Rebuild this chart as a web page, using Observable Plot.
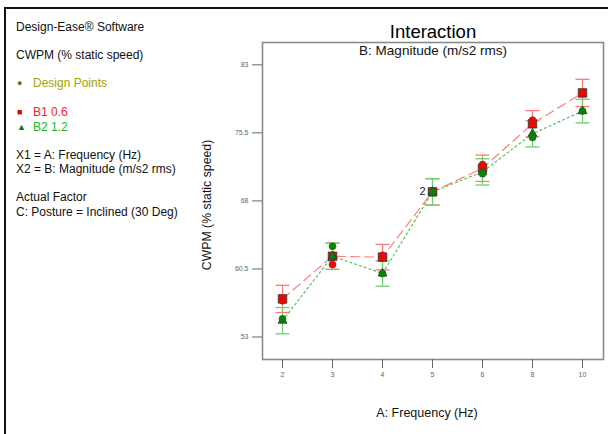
<!DOCTYPE html>
<html>
<head>
<meta charset="utf-8">
<script src="https://cdn.jsdelivr.net/npm/d3@7"></script>
<script src="https://cdn.jsdelivr.net/npm/@observablehq/plot@0.6"></script>
<style>
  body { margin: 0; background: #fff; font-family: "Liberation Sans", Arial, sans-serif; }
  #wrap { position: relative; width: 608px; height: 434px; overflow: hidden; }
  #border { position: absolute; left: 4px; top: 7px; right: -4px; bottom: -4px; border-top: 2px solid #111; border-left: 2px solid #111; }
  #chart { position: absolute; left: 0; top: 0; }
  .lt { position: absolute; left: 16px; font-size: 12px; color: #111; white-space: nowrap; line-height: 14px; }
  .mk { display: inline-block; width: 16px; padding-left: 1px; font-size: 9px; vertical-align: 1px; }
</style>
</head>
<body>
<div id="wrap">
  <div id="border"></div>
  <div id="chart"></div>
  <div class="lt" style="top:20px">Design-Ease® Software</div>
  <div class="lt" style="top:48px">CWPM (% static speed)</div>
  <div class="lt" style="top:76px;color:#a3a300"><span class="mk" style="color:#707000">●</span>Design Points</div>
  <div class="lt" style="top:105px;color:#ff1a1a"><span class="mk" style="color:#e00000">■</span>B1 0.6</div>
  <div class="lt" style="top:120px;color:#22b822"><span class="mk" style="color:#007a00">▲</span>B2 1.2</div>
  <div class="lt" style="top:148px">X1 = A: Frequency (Hz)</div>
  <div class="lt" style="top:162px">X2 = B: Magnitude (m/s2 rms)</div>
  <div class="lt" style="top:190px">Actual Factor</div>
  <div class="lt" style="top:205px">C: Posture = Inclined (30 Deg)</div>
</div>
<script>
// ---- data ----
const frequencies = ["2", "3", "4", "5", "6", "8", "10"];
const b1Means  = [57.2, 61.9, 61.8, 69.0, 71.6, 76.5, 79.9];
const b2Means  = [54.8, 61.9, 60.0, 69.0, 71.2, 75.4, 77.9];
const b1Err    = [1.5, 1.45, 1.4, 1.45, 1.45, 1.45, 1.5];
const b2Err    = [1.45, 1.45, 1.4, 1.45, 1.45, 1.45, 1.3];
const b1Design = [57.0, 61.0, 62.0, 69.0, 72.0, 76.9, 79.9];
const b2Design = [55.0, 63.0, 60.0, 69.0, 71.0, 75.0, 77.9];
const yTicks = [53, 60.5, 68, 75.5, 83];
const replicateLabel = {freq: "5", value: 69.0, text: "2"};

const b1 = frequencies.map((f, i) => ({freq: f, mean: b1Means[i], lo: b1Means[i] - b1Err[i], hi: b1Means[i] + b1Err[i], design: b1Design[i]}));
const b2 = frequencies.map((f, i) => ({freq: f, mean: b2Means[i], lo: b2Means[i] - b2Err[i], hi: b2Means[i] + b2Err[i], design: b2Design[i]}));

const red = "#ff0000", green = "#008a00";
const redLight = "#ff7a7a", greenLight = "#6fcf6f";

// horizontal cap symbol for error bars
const cap = {draw(ctx, size) { const w = Math.sqrt(size / Math.PI); ctx.moveTo(-w, 0); ctx.lineTo(w, 0); }};
const capOpts = (y, stroke) => ({x: "freq", y, symbol: cap, r: 7, fill: "none", stroke, strokeWidth: 1.3});

const chart = Plot.plot({
  width: 608,
  height: 434,
  marginLeft: 262,
  marginRight: 5,
  marginTop: 42,
  marginBottom: 75,
  style: {fontFamily: "'Liberation Sans', Arial, sans-serif", background: "transparent"},
  x: {type: "point", domain: frequencies, range: [281, 583], padding: 0},
  y: {domain: [50.52, 85.46]},
  marks: [
    Plot.frame({stroke: "#8a8a8a", strokeWidth: 1.6}),
    Plot.axisY({ticks: yTicks, tickFormat: d => String(d), tickSize: 10, tickPadding: 4, fontSize: 7, color: "#666", label: null}),
    Plot.axisX({tickSize: 9, tickPadding: 4, fontSize: 7, color: "#666", label: null}),
    // error bars
    Plot.ruleX(b1, {x: "freq", y1: "lo", y2: "hi", stroke: redLight, strokeWidth: 1.2}),
    Plot.ruleX(b2, {x: "freq", y1: "lo", y2: "hi", stroke: greenLight, strokeWidth: 1.2}),
    Plot.dot(b1, capOpts("lo", redLight)),
    Plot.dot(b1, capOpts("hi", redLight)),
    Plot.dot(b2, capOpts("lo", greenLight)),
    Plot.dot(b2, capOpts("hi", greenLight)),
    // prediction lines
    Plot.line(b1, {x: "freq", y: "mean", stroke: "#ff8080", strokeWidth: 1.2, strokeDasharray: "9,5"}),
    Plot.line(b2, {x: "freq", y: "mean", stroke: "#55c455", strokeWidth: 1.2, strokeDasharray: "2,3"}),
    // predicted means
    Plot.dot(b1, {x: "freq", y: "mean", symbol: "square", r: 4.8, fill: red, stroke: "#333", strokeWidth: 0.8}),
    Plot.dot(b2, {x: "freq", y: "mean", symbol: "triangle", r: 3.3, fill: green, stroke: "#333", strokeWidth: 0.8}),
    // design points
    Plot.dot(b1, {x: "freq", y: "design", r: 3.5, fill: red, stroke: "#444", strokeWidth: 0.6}),
    Plot.dot(b2, {x: "freq", y: "design", r: 3.5, fill: green, stroke: "#444", strokeWidth: 0.6}),
    Plot.text([replicateLabel], {x: "freq", y: "value", text: "text", dx: -10, fontSize: 11, fill: "#222"}),
    // titles
    Plot.text(["Interaction"], {frameAnchor: "top", lineAnchor: "middle", dy: -10, fontSize: 18.5, fill: "#000"}),
    Plot.text(["B: Magnitude (m/s2 rms)"], {frameAnchor: "top", lineAnchor: "middle", dy: 8.5, fontSize: 13.5, fill: "#111"}),
    Plot.text(["CWPM (% static speed)"], {frameAnchor: "left", textAnchor: "middle", lineAnchor: "middle", dx: -55, dy: 4, rotate: -90, fontSize: 12.3, fill: "#111"}),
    Plot.text(["A: Frequency (Hz)"], {frameAnchor: "bottom", textAnchor: "middle", lineAnchor: "middle", dy: 53, dx: -6, fontSize: 12.5, fill: "#111"})
  ]
});
document.getElementById("chart").appendChild(chart);
</script>
</body>
</html>
